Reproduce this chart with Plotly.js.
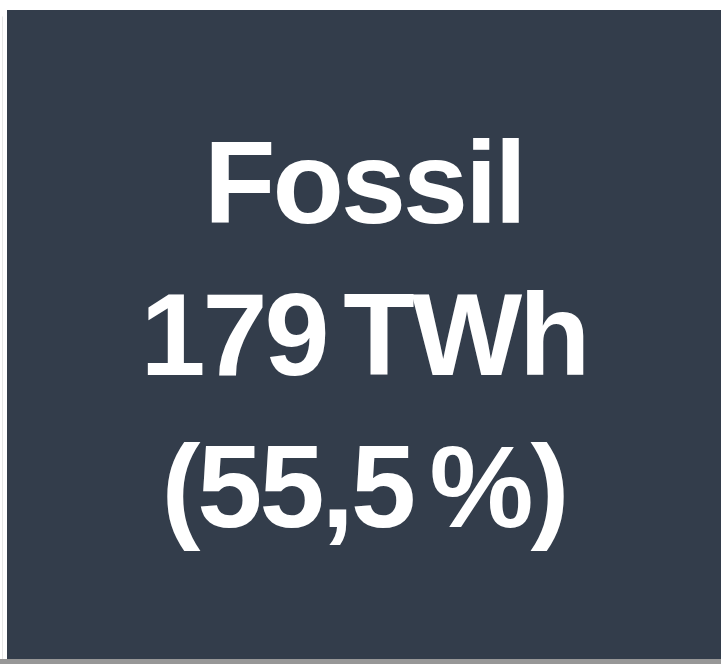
<!DOCTYPE html>
<html>
<head>
<meta charset="utf-8">
<script src="https://cdn.plot.ly/plotly-3.0.1.min.js"></script>
<style>
html,body{margin:0;padding:0;background:#fff;}
#chart{width:721px;height:664px;}
#chart svg text{letter-spacing:-3px;word-spacing:-13px;}
</style>
</head>
<body>
<div id="chart"></div>
<script>
// Data
const labels = ["Fossil"];
const parents = [""];
const valuesTWh = [179];
const sharePct = [55.5];
const tileColors = ["#333d4b"];

const trace = {
  type: "treemap",
  labels: labels,
  parents: parents,
  values: valuesTWh,
  customdata: sharePct,
  branchvalues: "total",
  texttemplate: "<b>%{label}</b><br><b>%{value} TWh</b><br><b>(%{customdata:.1f} %)</b>",
  textposition: "middle center",
  textfont: {family: "Liberation Sans, Arial, sans-serif", size: 117, color: "#ffffff"},
  marker: {colors: tileColors, line: {width: 0}, pad: {t: 0, l: 0, r: 0, b: 0}},
  pathbar: {visible: false},
  hoverinfo: "skip",
  tiling: {pad: 0}
};

const layout = {
  width: 721,
  height: 664,
  margin: {l: 7, r: 0, t: 10, b: 5, pad: 0},
  paper_bgcolor: "#ffffff",
  separators: ", ",
  showlegend: false,
  shapes: [
    {type: "rect", xref: "paper", yref: "paper", x0: -7/714, x1: 1, y0: -5/649, y1: 0,
     fillcolor: "#979797", line: {width: 0}, layer: "above"},
    {type: "line", xref: "paper", yref: "paper", x0: -4.5/714, x1: -4.5/714, y0: 0, y1: 0.99,
     line: {color: "#e6e6e6", width: 1}}
  ]
};

Plotly.newPlot("chart", [trace], layout, {displayModeBar: false, staticPlot: true});
</script>
</body>
</html>
